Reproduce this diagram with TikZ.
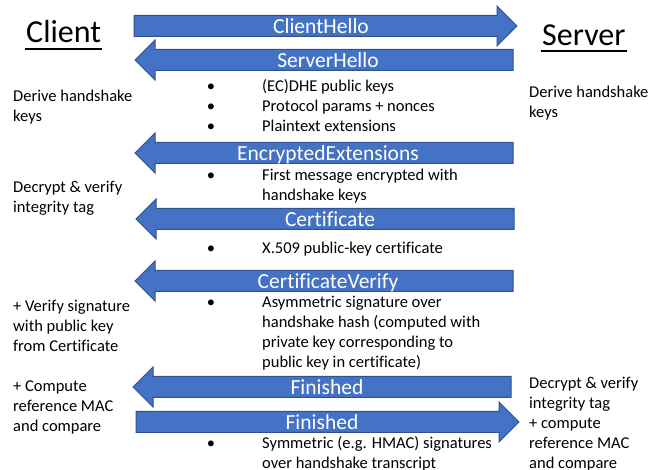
\documentclass[tikz,border=0pt]{standalone}
\usepackage{fontspec}
\setmainfont{Carlito}[Ligatures=NoCommon]
\definecolor{msgfill}{HTML}{4472C4}
\definecolor{msgline}{HTML}{2F528F}

\begin{document}
\begin{tikzpicture}[x=1pt,y=-1pt,
  msg/.style={fill=msgfill,draw=msgline,line width=1pt},
  msgname/.style={text=white,font=\fontsize{21.5}{25}\selectfont,anchor=base,inner sep=0pt},
  party/.style={font=\fontsize{32}{38}\selectfont,anchor=base west,inner xsep=1pt,inner ysep=0pt},
  partyline/.style={line width=2pt},
  note/.style={font=\fontsize{16.5}{20}\selectfont,anchor=base west,align=left,inner sep=0pt},
  dot/.style={font=\fontsize{16.5}{20}\selectfont,anchor=base,inner sep=0pt}]
\useasboundingbox (0,0) rectangle (665,470);

\node[party] (client) at (25,43) {Client};
\node[party] (server) at (541,46) {Server};
\draw[partyline] ([yshift=-6pt]client.base west) -- ([yshift=-6pt]client.base east);
\draw[partyline] ([yshift=-5pt]server.base west) -- ([yshift=-5pt]server.base east);

\draw[msg] (134,15.5) -- (497,15.5) -- (497,6) -- (517,26) -- (497,46) -- (497,36.5) -- (134,36.5) -- cycle;
\node[msgname] (clienthello) at (321,33.5) {ClientHello};

\draw[msg] (513,49.5) -- (155,49.5) -- (155,40) -- (135,60) -- (155,80) -- (155,70.5) -- (513,70.5) -- cycle;
\node[msgname] (serverhello) at (328,67.5) {ServerHello};

\draw[msg] (513,142.5) -- (155,142.5) -- (155,133) -- (135,153) -- (155,173) -- (155,163.5) -- (513,163.5) -- cycle;
\node[msgname] (encext) at (328,160.5) {EncryptedExtensions};

\draw[msg] (514,208.5) -- (156,208.5) -- (156,199) -- (136,219) -- (156,239) -- (156,229.5) -- (514,229.5) -- cycle;
\node[msgname] (cert) at (330,226.5) {Certificate};

\draw[msg] (513,270.5) -- (155,270.5) -- (155,261) -- (135,281) -- (155,301) -- (155,291.5) -- (513,291.5) -- cycle;
\node[msgname] (certverify) at (328,288.5) {CertificateVerify};

\draw[msg] (511,376.5) -- (153,376.5) -- (153,367) -- (133,387) -- (153,407) -- (153,397.5) -- (511,397.5) -- cycle;
\node[msgname] (sfinished) at (327,394.5) {Finished};

\draw[msg] (136,411.5) -- (499,411.5) -- (499,402) -- (519,422) -- (499,442) -- (499,432.5) -- (136,432.5) -- cycle;
\node[msgname] (cfinished) at (322,429.5) {Finished};

\node[note] (cderive) at (13,122) {Derive handshake\\keys};
\node[note] (sderive) at (529,118) {Derive handshake\\keys};
\node[note] (cdecrypt) at (13,213) {Decrypt \& verify\\integrity tag};
\node[note] (cverify) at (13,352) {+ Verify signature\\with public key\\from Certificate};
\node[note] (cmac) at (13,432) {+ Compute\\reference MAC\\and compare};
\node[note] (smac) at (529,469) {Decrypt \& verify\\integrity tag\\+ compute\\reference MAC\\and compare};

\node[dot] (d1) at (211,92) {•};
\node[note] (keyshare) at (262,92) {(EC)DHE public keys};
\node[dot] (d2) at (211,112) {•};
\node[note] (params) at (262,112) {Protocol params + nonces};
\node[dot] (d3) at (211,132) {•};
\node[note] (plainext) at (262,132) {Plaintext extensions};
\node[dot] (d4) at (211,181) {•};
\node[note] (firstenc) at (262,201) {First message encrypted with\\handshake keys};
\node[dot] (d5) at (211,254) {•};
\node[note] (x509) at (262,254) {X.509 public-key certificate};
\node[dot] (d6) at (211,308) {•};
\node[note] (asym) at (262,368) {Asymmetric signature over\\handshake hash (computed with\\private key corresponding to\\public key in certificate)};
\node[dot] (d7) at (211,449) {•};
\node[note] (sym) at (262,469) {Symmetric (e.g. HMAC) signatures\\over handshake transcript};
\end{tikzpicture}
\end{document}
